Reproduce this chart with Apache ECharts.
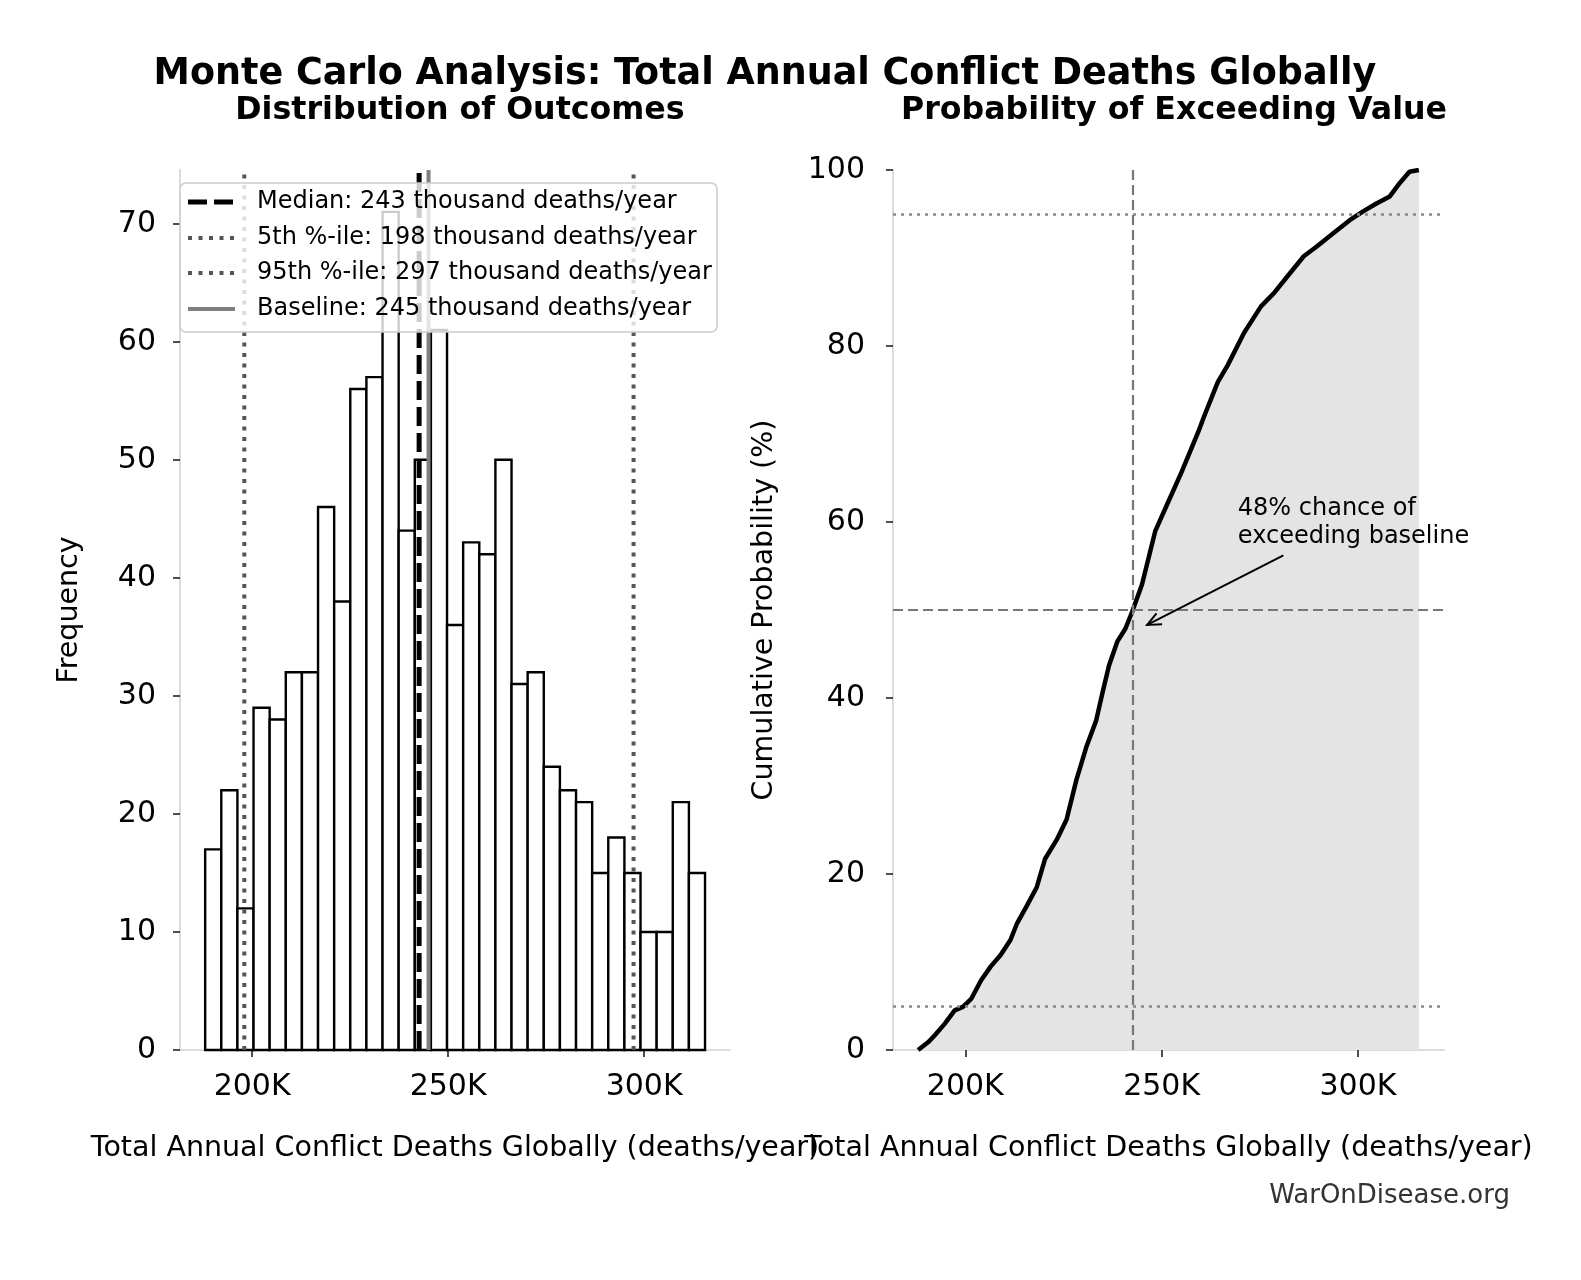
<!DOCTYPE html>
<html><head><meta charset="utf-8">
<script src="https://cdn.jsdelivr.net/npm/echarts@6/dist/echarts.min.js"></script>
<style>html,body{margin:0;padding:0;background:#fff}#c{width:1581px;height:1280px}</style>
</head><body><div id="c"></div>
<script>
// ---- data ----
const histCounts = [17,22,12,29,28,32,32,46,38,56,57,71,44,50,61,36,43,42,50,31,32,24,22,21,15,18,15,10,10,21,15];
const histMin = 188020;
const histMax = 315530;
const medianVal = 242600;
const p5Val = 198000;
const p95Val = 297300;
const baselineVal = 245000;
const cdfX = [188000,190600,192300,194800,197300,199400,201500,204000,206500,209000,211500,213200,215700,218200,220300,223300,225800,228300,230800,233300,235000,236600,238700,240800,242500,245000,248400,251700,255100,259300,260900,264300,266800,271000,275300,278600,282000,286200,289500,293700,297900,301300,304700,308100,310600,313100,315500];
const cdfP = [0,0.9,1.7,3.0,4.5,4.9,5.8,7.9,9.5,10.8,12.5,14.4,16.4,18.5,21.7,23.9,26.2,30.7,34.4,37.4,40.7,43.7,46.4,47.9,49.8,52.9,59.0,62.3,65.7,70.2,72.1,75.9,77.8,81.5,84.5,86.0,87.9,90.2,91.3,92.8,94.3,95.3,96.2,97.0,98.5,99.8,100];
const xTicks = [200000,250000,300000];
const leftYTicks = [0,10,20,30,40,50,60,70];
const rightYTicks = [0,20,40,60,80,100];
const refLevels = [5,50,95];
const annotText = '48% chance of\nexceeding baseline';
const arrowTip = [246300, 48.3];
const arrowTail = [281000, 56.2];
const annotPos = [269400, 63.1];

const legendNames = [
  'Median: 243 thousand deaths/year',
  '5th %-ile: 198 thousand deaths/year',
  '95th %-ile: 297 thousand deaths/year',
  'Baseline: 245 thousand deaths/year'
];

// ---- styles ----
const FONT = 'DejaVu Sans';
const lineStyles = [
  {color: '#000', width: 5, type: [19, 7]},
  {color: '#555', width: 4, type: [4, 6.5]},
  {color: '#555', width: 4, type: [4, 6.5]},
  {color: '#808080', width: 4, type: 'solid'}
];

// ---- derived ----
const binW = (histMax - histMin) / histCounts.length;
const histData = histCounts.map((c, i) => [histMin + i * binW, histMin + (i + 1) * binW, c]);
const leftYMax = Math.max(...histCounts) * 1.05;
const xMin = 181600, xMax = 321900;
const vValues = [medianVal, p5Val, p95Val, baselineVal];

function xAxisCfg(gi) {
  return {
    type: 'value', gridIndex: gi, min: xMin, max: xMax,
    axisLine: {show: true, lineStyle: {color: '#dcdcdc', width: 2}},
    axisTick: {show: true, customValues: xTicks, length: 7, lineStyle: {color: '#222', width: 1.6}},
    axisLabel: {customValues: xTicks, formatter: v => Math.round(v / 1000) + 'K', fontSize: 30, color: '#000', fontFamily: FONT, margin: 22},
    splitLine: {show: false},
    name: 'Total Annual Conflict Deaths Globally (deaths/year)',
    nameLocation: 'middle', nameGap: 84,
    nameTextStyle: {fontSize: 28.5, color: '#000', fontFamily: FONT}
  };
}
function yAxisCfg(gi, max, ticks, name, gap, margin) {
  return {
    type: 'value', gridIndex: gi, min: 0, max: max,
    axisLine: {show: true, lineStyle: {color: '#dcdcdc', width: 2}},
    axisTick: {show: true, customValues: ticks, length: 7, lineStyle: {color: '#222', width: 1.6}},
    axisLabel: {customValues: ticks, fontSize: 30, color: '#000', fontFamily: FONT, margin: margin},
    splitLine: {show: false},
    name: name, nameLocation: 'middle', nameGap: gap, nameRotate: 90,
    nameTextStyle: {fontSize: 28.5, color: '#000', fontFamily: FONT}
  };
}
function vline(i) {
  return {
    type: 'line', name: legendNames[i], xAxisIndex: 0, yAxisIndex: 0,
    data: [[vValues[i], 0], [vValues[i], leftYMax]], showSymbol: false, symbol: 'none', silent: true,
    lineStyle: lineStyles[i], itemStyle: {color: lineStyles[i].color}, z: 5
  };
}

const chart = echarts.init(document.getElementById('c'), null, {renderer: 'canvas'});
chart.setOption({
  animation: false,
  backgroundColor: '#fff',
  textStyle: {fontFamily: FONT},
  title: [
    {text: 'Monte Carlo Analysis: Total Annual Conflict Deaths Globally', left: 760, top: 51, textAlign: 'center',
     textStyle: {fontSize: 36.5, fontWeight: 'bold', color: '#000', fontFamily: FONT}},
    {text: 'Distribution of Outcomes', left: 455, top: 90, textAlign: 'center',
     textStyle: {fontSize: 31.7, fontWeight: 'bold', color: '#000', fontFamily: FONT}},
    {text: 'Probability of Exceeding Value', left: 1169, top: 90, textAlign: 'center',
     textStyle: {fontSize: 31.7, fontWeight: 'bold', color: '#000', fontFamily: FONT}}
  ],
  grid: [
    {left: 180, top: 170, width: 550, height: 880},
    {left: 893, top: 170, width: 551, height: 880}
  ],
  xAxis: [xAxisCfg(0), xAxisCfg(1)],
  yAxis: [
    yAxisCfg(0, leftYMax, leftYTicks, 'Frequency', 96, 24),
    yAxisCfg(1, 100, rightYTicks, 'Cumulative Probability (%)', 114, 28)
  ],
  series: [
    {
      type: 'custom', name: 'hist', xAxisIndex: 0, yAxisIndex: 0, silent: true,
      data: histData, encode: {x: [0, 1], y: 2},
      renderItem: function (params, api) {
        const p0 = api.coord([api.value(0), api.value(2)]);
        const p1 = api.coord([api.value(1), 0]);
        return {type: 'rect', shape: {x: p0[0], y: p0[1], width: p1[0] - p0[0], height: p1[1] - p0[1]},
          style: {fill: '#fff', stroke: '#000', lineWidth: 2.4}};
      }
    },
    vline(0), vline(1), vline(2), vline(3),
    {
      type: 'line', name: 'cdf', xAxisIndex: 1, yAxisIndex: 1, silent: true,
      data: cdfX.map((x, i) => [x, cdfP[i]]), showSymbol: false, symbol: 'none',
      lineStyle: {color: '#000', width: 4.5}, itemStyle: {color: '#000'},
      areaStyle: {color: '#e4e4e4', opacity: 1},
      z: 4,
      markLine: {
        silent: true, symbol: ['none', 'none'], label: {show: false}, animation: false,
        data: [
          {yAxis: refLevels[0], lineStyle: {color: '#888', width: 2.5, type: [3, 5]}},
          {yAxis: refLevels[1], lineStyle: {color: '#777', width: 2.2, type: [10, 5]}},
          {yAxis: refLevels[2], lineStyle: {color: '#888', width: 2.5, type: [3, 5]}},
          {xAxis: medianVal, lineStyle: {color: '#777', width: 2.2, type: [10, 5]}}
        ]
      }
    }
  ]
});

// legend box (drawn as graphic so line samples match the series styles)
const legendGraphics = [
  {type: 'rect', shape: {x: 180, y: 183, width: 537, height: 149, r: 6},
   style: {fill: 'rgba(255,255,255,0.8)', stroke: '#cccccc', lineWidth: 1.5}, z: 30}
];
const rowY = [202, 238, 273, 309];
legendNames.forEach((nm, i) => {
  const ls = lineStyles[i];
  legendGraphics.push({type: 'line', shape: {x1: 188, y1: rowY[i], x2: 235, y2: rowY[i]},
    style: {stroke: ls.color, lineWidth: ls.width, lineDash: ls.type === 'solid' ? null : ls.type}, z: 31});
  legendGraphics.push({type: 'text', x: 257, y: rowY[i], z: 31,
    style: {text: nm, font: '24px "DejaVu Sans"', fill: '#000', textVerticalAlign: 'middle'}});
});

// annotation & arrow placed from data coords
const tip = chart.convertToPixel({gridIndex: 1}, arrowTip);
const tail = chart.convertToPixel({gridIndex: 1}, arrowTail);
const tp = chart.convertToPixel({gridIndex: 1}, annotPos);
const ang = Math.atan2(tail[1] - tip[1], tail[0] - tip[0]);
const hl = 15, ha = 0.42;
chart.setOption({
  graphic: legendGraphics.concat([
    {type: 'line', shape: {x1: tail[0], y1: tail[1], x2: tip[0], y2: tip[1]}, style: {stroke: '#000', lineWidth: 2}, z: 20},
    {type: 'polyline', shape: {points: [
      [tip[0] + hl * Math.cos(ang + ha), tip[1] + hl * Math.sin(ang + ha)],
      [tip[0], tip[1]],
      [tip[0] + hl * Math.cos(ang - ha), tip[1] + hl * Math.sin(ang - ha)]
    ]}, style: {stroke: '#000', lineWidth: 2, fill: null}, z: 20},
    {type: 'text', x: tp[0], y: tp[1], z: 20,
     style: {text: annotText, font: '24px "DejaVu Sans"', fill: '#000', lineHeight: 28, textAlign: 'left', textVerticalAlign: 'top'}},
    {type: 'text', right: 71, top: 1183, z: 20,
     style: {text: 'WarOnDisease.org', font: '26px "DejaVu Sans"', fill: '#333'}}
  ])
});
</script>
</body></html>
